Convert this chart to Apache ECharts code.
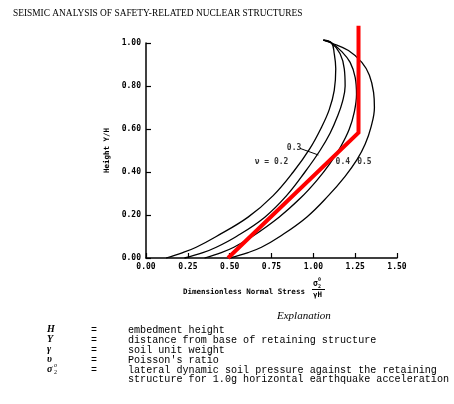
<!DOCTYPE html>
<html>
<head>
<meta charset="utf-8">
<script src="https://cdn.jsdelivr.net/npm/echarts@6/dist/echarts.min.js"></script>
<style>
  html, body { margin: 0; padding: 0; background: #fff; }
  #chart { width: 454px; height: 404px; }
</style>
</head>
<body>
<div id="chart"></div>
<script>
// curves: [stress sigma/(gamma H), height Y/H]
const nu02 = [[0.12, 0], [0.22, 0.025], [0.30, 0.05], [0.42, 0.1], [0.61, 0.19], [0.76, 0.29], [0.88, 0.40], [0.98, 0.51], [1.05, 0.61], [1.095, 0.69], [1.125, 0.78], [1.134, 0.88], [1.125, 0.95], [1.109, 1.0], [1.06, 1.013]]
const nu03 = [[0.23, 0], [0.34, 0.025], [0.42, 0.05], [0.54, 0.1], [0.71, 0.19], [0.84, 0.29], [0.95, 0.40], [1.04, 0.50], [1.10, 0.58], [1.145, 0.66], [1.175, 0.73], [1.19, 0.80], [1.185, 0.88], [1.16, 0.95], [1.109, 1.0], [1.06, 1.013]]
const nu04 = [[0.35, 0], [0.45, 0.025], [0.525, 0.05], [0.635, 0.1], [0.795, 0.19], [0.925, 0.28], [1.02, 0.36], [1.10, 0.44], [1.165, 0.52], [1.215, 0.60], [1.245, 0.68], [1.258, 0.76], [1.25, 0.84], [1.22, 0.91], [1.17, 0.96], [1.109, 1.0], [1.06, 1.013]]
const nu05 = [[0.50, 0], [0.61, 0.025], [0.69, 0.05], [0.80, 0.1], [0.96, 0.19], [1.09, 0.29], [1.19, 0.38], [1.26, 0.456], [1.31, 0.53], [1.345, 0.61], [1.365, 0.70], [1.36, 0.77], [1.335, 0.85], [1.29, 0.91], [1.21, 0.965], [1.109, 1.0], [1.06, 1.013]]
// red overlay
const redLine = [[0.49, 0], [1.27, 0.583], [1.27, 1.08]]
// curve labels
const curveLabels = [[0.75, 0.447, 'ν = 0.2'], [0.885, 0.51, '0.3'], [1.176, 0.448, '0.4'], [1.305, 0.448, '0.5']]
const leader03 = [[0.92, 0.51], [1.03, 0.479]]
// explanation table
const explSymbols = ['H', 'Y', 'γ', 'υ', 'σ']
const explText = [
  'embedment height',
  'distance from base of retaining structure',
  'soil unit weight',
  'Poisson\'s ratio',
  'lateral dynamic soil pressure against the retaining',
  'structure for 1.0g horizontal earthquake acceleration',
]

const chart = echarts.init(document.getElementById('chart'))

const mono = 'DejaVu Sans Mono'
const curveStyle = { color: '#000', width: 1.3 }

function curve (name, data) {
  return {
    name: name,
    type: 'line',
    data: data,
    smooth: 0.4,
    symbol: 'none',
    clip: false,
    lineStyle: curveStyle,
    silent: true,
  }
}

const graphics = [
  {
    type: 'text', left: 13, top: 9,
    style: { text: 'SEISMIC ANALYSIS OF SAFETY-RELATED NUCLEAR STRUCTURES', font: '9.4px "Liberation Serif"', fill: '#000' },
  },
  {
    type: 'text', left: 183, top: 288,
    style: { text: 'Dimensionless Normal Stress', font: 'bold 7.5px "DejaVu Sans Mono"', fill: '#000' },
  },
  // fraction sigma / gamma H
  { type: 'text', left: 313, top: 280, style: { text: 'σ', font: 'bold 8px "DejaVu Sans Mono"', fill: '#000' } },
  { type: 'text', left: 318, top: 277, style: { text: '0', font: 'bold 5px "DejaVu Sans Mono"', fill: '#000' } },
  { type: 'text', left: 318, top: 284, style: { text: '2', font: 'bold 5px "DejaVu Sans Mono"', fill: '#000' } },
  { type: 'line', shape: { x1: 312, y1: 289.5, x2: 325, y2: 289.5 }, style: { stroke: '#000', lineWidth: 1 } },
  { type: 'text', left: 313, top: 291, style: { text: 'γH', font: 'bold 7.5px "DejaVu Sans Mono"', fill: '#000' } },
  // explanation
  {
    type: 'text', left: 277, top: 311,
    style: { text: 'Explanation', font: 'italic 11px "Liberation Serif"', fill: '#000' },
  },
]

const rowY = [330, 340, 350, 360, 370, 379.5]
for (let i = 0; i < explText.length; i++) {
  graphics.push({
    type: 'text', left: 128, top: rowY[i] - 5,
    style: { text: explText[i], font: '10.1px "Liberation Mono"', fill: '#000' },
  })
}
for (let i = 0; i < explSymbols.length; i++) {
  graphics.push({
    type: 'text', left: 47, top: rowY[i] - 5.5,
    style: { text: explSymbols[i], font: 'italic bold 10px "Liberation Serif"', fill: '#000' },
  })
  graphics.push({
    type: 'text', left: 91, top: rowY[i] - 5,
    style: { text: '=', font: '10px "Liberation Mono"', fill: '#000' },
  })
}
graphics.push({ type: 'text', left: 54, top: 362, style: { text: 'o', font: 'italic 6px "Liberation Serif"', fill: '#000' } })
graphics.push({ type: 'text', left: 54, top: 369, style: { text: '2', font: '6px "Liberation Serif"', fill: '#000' } })

const option = {
  backgroundColor: '#fff',
  animation: false,
  grid: { left: 146, right: 57, top: 43, bottom: 146 },
  xAxis: {
    type: 'value',
    min: 0,
    max: 1.5,
    interval: 0.25,
    splitLine: { show: false },
    axisLine: { onZero: false, lineStyle: { color: '#000', width: 1.5 } },
    axisTick: { inside: true, length: 5, lineStyle: { color: '#000', width: 1.2 } },
    axisLabel: {
      margin: 5,
      color: '#000',
      fontFamily: mono,
      fontWeight: 'bold',
      fontSize: 8,
      formatter: v => v.toFixed(2),
    },
  },
  yAxis: {
    type: 'value',
    min: 0,
    max: 1.0,
    interval: 0.2,
    name: 'Height Y/H',
    nameLocation: 'middle',
    nameGap: 29,
    nameTextStyle: { color: '#000', fontFamily: mono, fontWeight: 'bold', fontSize: 7.5 },
    splitLine: { show: false },
    axisLine: { onZero: false, lineStyle: { color: '#000', width: 1.5 } },
    axisTick: { inside: true, length: 5, lineStyle: { color: '#000', width: 1.2 } },
    axisLabel: {
      margin: 5,
      color: '#000',
      fontFamily: mono,
      fontWeight: 'bold',
      fontSize: 8,
      formatter: v => v.toFixed(2),
    },
  },
  graphic: graphics,
  series: [
    curve('ν = 0.2', nu02),
    curve('ν = 0.3', nu03),
    curve('ν = 0.4', nu04),
    curve('ν = 0.5', nu05),
    {
      name: 'leader',
      type: 'line',
      data: leader03,
      symbol: 'none',
      lineStyle: { color: '#000', width: 1 },
      silent: true,
    },
    {
      name: 'labels',
      type: 'scatter',
      data: curveLabels,
      symbolSize: 0,
      label: {
        show: true,
        position: 'inside',
        formatter: p => p.data[2],
        color: '#000',
        fontFamily: mono,
        fontWeight: 'bold',
        fontSize: 8,
      },
      silent: true,
    },
    {
      name: 'red',
      type: 'line',
      data: redLine,
      symbol: 'none',
      clip: false,
      lineStyle: { color: '#ff0000', width: 4, join: 'miter' },
      silent: true,
      z: 5,
    },
  ],
}
chart.setOption(option)
</script>
</body>
</html>
